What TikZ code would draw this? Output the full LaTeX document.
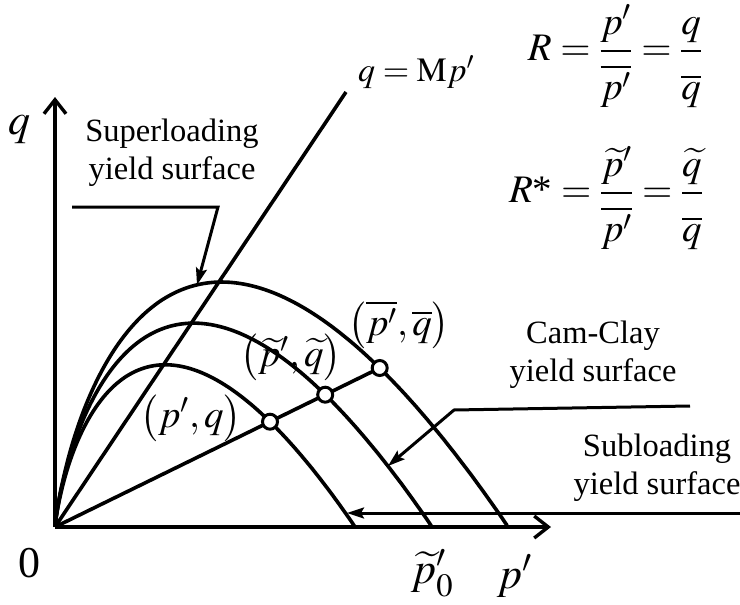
\documentclass[tikz,border=0pt]{standalone}
\usepackage{mathptmx}
\usepackage[no-math]{fontspec}
\setmainfont{Liberation Serif}
\usetikzlibrary{arrows.meta}
\newcommand{\dn}[1]{\overline{#1}\rule{0pt}{1.1em}}
\begin{document}
\begin{tikzpicture}[x=1pt,y=-1pt,
  curve/.style={line width=3.6pt},
  axis/.style={line width=3.4pt,-{Straight Barb[length=14pt,width=22pt]}},
  leader/.style={line width=3pt,-{Stealth[length=17pt,width=11pt,inset=3pt]}},
  dot/.style={circle,draw,fill=white,line width=3pt,minimum size=15pt,inner sep=0pt},
  lbl/.style={font=\fontsize{32.5}{38}\selectfont,align=center,inner sep=0pt},
  mth/.style={font=\fontsize{39}{44}\selectfont,inner sep=0pt},
  csl/.style={font=\fontsize{34}{40}\selectfont,inner sep=0pt},
  big/.style={font=\fontsize{44}{48}\selectfont,inner sep=0pt}]
\useasboundingbox (0,0) rectangle (740,605);
% coordinates
\coordinate (O) at (55,527);
\coordinate (qtip) at (55,97);
\coordinate (ptip) at (551,527);
\coordinate (cslend) at (346,92);
% axes
\draw[axis] (O) -- (qtip);
\draw[axis] (O) -- (ptip);
% critical state line
\draw[curve] (O) -- (cslend);
% yield surfaces
\draw[curve] plot[domain=0.01:1,samples=150,variable=\t,smooth] ({55+300*\t*\t},{527+2*1.47*300*\t*\t*ln(\t)});
\draw[curve] plot[domain=0.01:1,samples=150,variable=\t,smooth] ({55+377*\t*\t},{527+2*1.47*377*\t*\t*ln(\t)});
\draw[curve] plot[domain=0.01:1,samples=150,variable=\t,smooth] ({55+453*\t*\t},{527+2*1.47*453*\t*\t*ln(\t)});
% radial line and points
\coordinate (Cpos) at (379.7,368.0);
\draw[curve] (O) -- (Cpos);
\node[dot] (A) at (270.0,421.7) {};
\node[dot] (B) at (325.2,394.7) {};
\node[dot] (C) at (Cpos) {};
% leaders
\coordinate (s1) at (72,207);
\coordinate (s2) at (218,207);
\coordinate (s3) at (197,285);
\draw[leader] (s1) -- (s2) -- (s3);
\coordinate (c1) at (690,406);
\coordinate (c2) at (454,410);
\coordinate (c3) at (388,466);
\draw[leader] (c1) -- (c2) -- (c3);
\coordinate (b1) at (742,513);
\coordinate (b2) at (347,513);
\draw[leader] (b1) -- (b2);
% labels
\node[big] (ql) at (20,130) {$q$};
\node[big] (zero) at (30,563) {0};
\node[big] (pl) at (515,576) {$p'$};
\node[big] (p0l) at (432,573) {$\widetilde{p}'_{0}$};
\node[csl,anchor=west] (cslt) at (358,72) {$q=\mathrm{M}p'$};
\node[mth] (R) at (615,56) {$\displaystyle R=\frac{p'}{\dn{p'}}=\frac{q}{\dn{q}}$};
\node[mth] (Rs) at (606,198) {$\displaystyle R\mbox{*}=\frac{\widetilde{p}'}{\dn{p'}}=\frac{\widetilde{q}}{\dn{q}}$};
\node[mth] (Al) at (191,418) {$\bigl(p',q\bigr)$};
\node[mth] (Bl) at (291,357) {$\bigl(\widetilde{p}',\widetilde{q}\bigr)$};
\node[mth] (Cl) at (399,325) {$\bigl(\overline{p'},\overline{q}\bigr)$};
\node[lbl] (sup) at (172,153) {Superloading\\yield surface};
\node[lbl] (cam) at (593,355) {Cam-Clay\\yield surface};
\node[lbl] (sub) at (657,468) {Subloading\\yield surface};
\end{tikzpicture}
\end{document}
